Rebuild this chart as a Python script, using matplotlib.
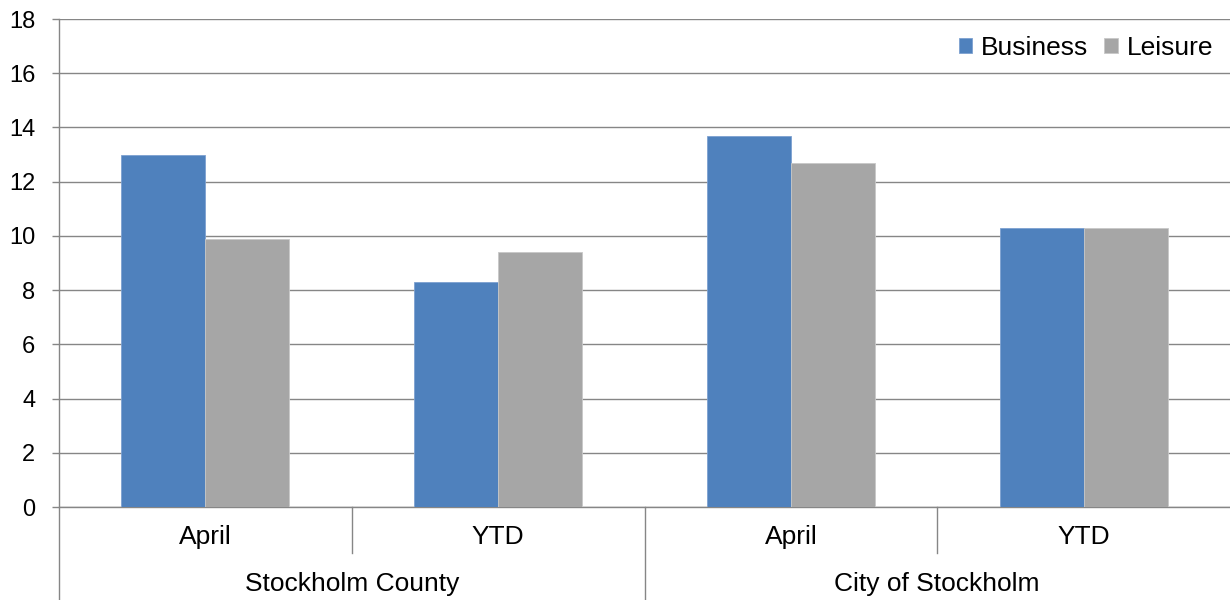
import matplotlib
matplotlib.use("Agg")
import matplotlib.pyplot as plt
import matplotlib.transforms as mtransforms
import numpy as np

plt.rcParams['font.family'] = ['Liberation Sans', 'DejaVu Sans']

periods = ["April", "YTD", "April", "YTD"]
groups = ["Stockholm County", "City of Stockholm"]
business = [13.0, 8.3, 13.7, 10.3]
leisure = [9.9, 9.4, 12.7, 10.28]
yticks = [0, 2, 4, 6, 8, 10, 12, 14, 16, 18]

FS_TICK = 17
FS = 19
fig = plt.figure(figsize=(12.3, 6), dpi=100)
ax = fig.add_axes([59/1230, 1 - 507/600, 1 - 59/1230, 488/600])

x = np.arange(len(periods))
w = 0.287
gridc = "#868686"
ax.bar(x - w/2, business, w, color="#4F81BD", edgecolor="#7DA1D0", linewidth=0.6, label="Business", zorder=3)
ax.bar(x + w/2, leisure, w, color="#A6A6A6", edgecolor="#C8C8C8", linewidth=0.6, label="Leisure", zorder=3)

ax.set_xlim(-0.5, 3.5)
ax.set_ylim(0, 18)
ax.set_yticks(yticks)
ax.set_yticklabels([str(v) for v in yticks], fontsize=FS_TICK)
ax.yaxis.grid(True, color=gridc, linewidth=1)
ax.set_axisbelow(True)
ax.tick_params(axis='y', length=5, color=gridc, width=1, pad=12)
ax.set_xticks([])

for s in ["top", "right"]:
    ax.spines[s].set_visible(False)
ax.spines["left"].set_visible(False)
ax.spines["bottom"].set_color(gridc)
ax.spines["bottom"].set_linewidth(1)

trans = mtransforms.blended_transform_factory(ax.transData, ax.transAxes)
ax.plot([-0.5, -0.5], [1, -0.2], transform=trans, color=gridc, lw=1, clip_on=False, zorder=4)
ax.plot([0.5, 0.5], [0, -0.094], transform=trans, color=gridc, lw=1, clip_on=False)
ax.plot([2.5, 2.5], [0, -0.094], transform=trans, color=gridc, lw=1, clip_on=False)
ax.plot([1.5, 1.5], [0, -0.2], transform=trans, color=gridc, lw=1, clip_on=False)

for xi, lab in zip(x, periods):
    ax.text(xi, -0.0615, lab, transform=trans, ha="center", va="center", fontsize=FS)
for gi, g in enumerate(groups):
    ax.text(0.5 + 2*gi, -0.158, g, transform=trans, ha="center", va="center", fontsize=FS)

leg = ax.legend(loc="upper right", bbox_to_anchor=(1.0015, 1.004), ncol=2, frameon=False,
                fontsize=FS, handlelength=0.5, handleheight=0.5, handletextpad=0.35,
                columnspacing=0.6, borderaxespad=0.3)

fig.savefig("out.png", dpi=100)
